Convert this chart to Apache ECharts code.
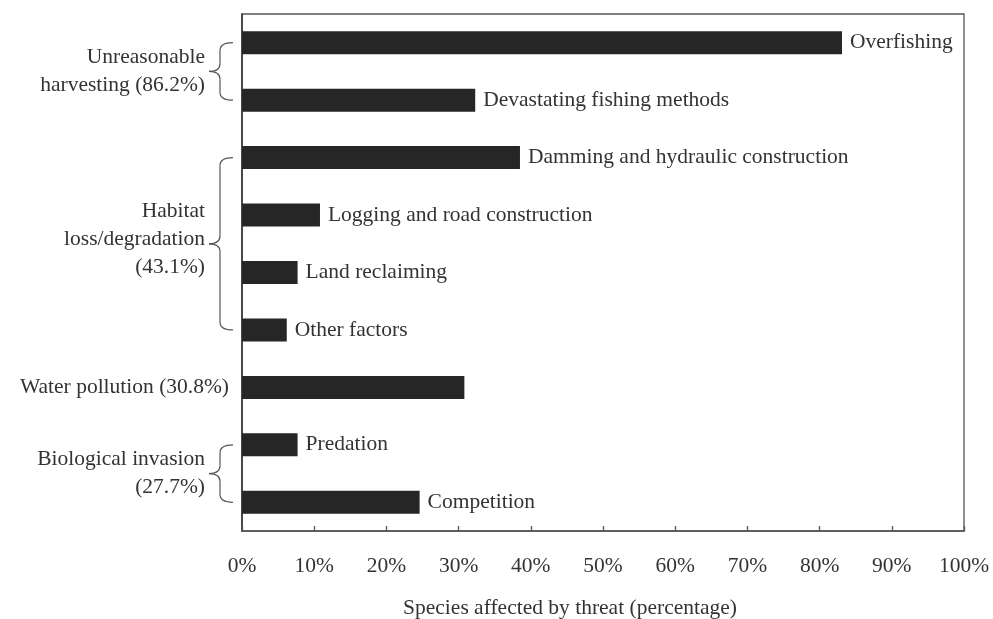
<!DOCTYPE html>
<html>
<head>
<meta charset="utf-8">
<script src="https://cdn.jsdelivr.net/npm/echarts@6/dist/echarts.min.js"></script>
<style>html,body{margin:0;padding:0;background:#fff;}#c{width:993px;height:619px;}</style>
</head>
<body>
<div id="c"></div>
<script>
var categories = ['Overfishing', 'Devastating fishing methods', 'Damming and hydraulic construction',
  'Logging and road construction', 'Land reclaiming', 'Other factors', 'Water pollution',
  'Predation', 'Competition'];
var barLabels = ['Overfishing', 'Devastating fishing methods', 'Damming and hydraulic construction',
  'Logging and road construction', 'Land reclaiming', 'Other factors', '',
  'Predation', 'Competition'];
var values = [83.1, 32.3, 38.5, 10.8, 7.7, 6.2, 30.8, 7.7, 24.6];
var xTicks = [0, 10, 20, 30, 40, 50, 60, 70, 80, 90, 100];
var groupLabels = [['Unreasonable', 'harvesting (86.2%)'], ['Habitat', 'loss/degradation', '(43.1%)'],
  ['Water pollution (30.8%)'], ['Biological invasion', '(27.7%)']];
var groupStart = [0, 2, 6, 7];
var groupEnd = [1, 5, 6, 8];

var FONT = '"Liberation Serif", "Times New Roman", serif';
var FS = 21.5;
var TXT = '#333333';
var chart = echarts.init(document.getElementById('c'));
chart.setOption({
  animation: false,
  grid: { left: 242, right: 29, top: 14, bottom: 88, show: true, borderColor: '#555', borderWidth: 1.3,
    containLabel: false, outerBoundsMode: 'none' },
  xAxis: {
    type: 'value', min: 0, max: 100, interval: 10,
    name: 'Species affected by threat (percentage)', nameLocation: 'middle', nameGap: 66,
    nameTextStyle: { fontFamily: FONT, fontSize: FS, color: TXT, padding: [0, 66, 0, 0] },
    axisLine: { show: true, lineStyle: { color: '#555', width: 1.5 } },
    axisTick: { show: true, inside: true, length: 5, lineStyle: { color: '#555', width: 1.3 } },
    axisLabel: { margin: 24, fontFamily: FONT, fontSize: FS, color: TXT, formatter: function (v) { return v + '%'; },
      customValues: xTicks },
    splitLine: { show: false }
  },
  yAxis: {
    type: 'category', inverse: true, data: categories,
    axisLine: { show: true, lineStyle: { color: '#333', width: 1.5 } },
    axisTick: { show: false }, axisLabel: { show: false }, splitLine: { show: false }
  },
  series: [{
    type: 'bar', data: values, barWidth: '40%',
    itemStyle: { color: '#262626' },
    label: { show: true, position: 'right', distance: 8, fontFamily: FONT, fontSize: FS, color: TXT,
      formatter: function (p) { return barLabels[p.dataIndex]; } }
  }]
});

var graphics = [];
var spineX = 220, tipX = 233, r = 8;
var bstyle = { fill: null, stroke: '#555', lineWidth: 1.2 };
function curve(x1, y1, cx, cy, x2, y2) {
  graphics.push({ type: 'bezierCurve', shape: { x1: x1, y1: y1, cpx1: cx, cpy1: cy, x2: x2, y2: y2 }, style: bstyle });
}
function seg(x1, y1, x2, y2) {
  graphics.push({ type: 'line', shape: { x1: x1, y1: y1, x2: x2, y2: y2 }, style: bstyle });
}
for (var g = 0; g < groupLabels.length; g++) {
  var y0 = chart.convertToPixel({ yAxisIndex: 0 }, groupStart[g]);
  var y1 = chart.convertToPixel({ yAxisIndex: 0 }, groupEnd[g]);
  var mid = (y0 + y1) / 2;
  var textX;
  if (groupStart[g] !== groupEnd[g]) {
    var px = spineX - 11;
    curve(tipX, y0, spineX, y0, spineX, y0 + r);
    seg(spineX, y0 + r, spineX, mid - r);
    curve(spineX, mid - r, spineX, mid, px, mid);
    curve(px, mid, spineX, mid, spineX, mid + r);
    seg(spineX, mid + r, spineX, y1 - r);
    curve(spineX, y1 - r, spineX, y1, tipX, y1);
    textX = px - 4;
  } else {
    textX = 229;
  }
  graphics.push({
    type: 'text', x: textX, y: mid - (groupLabels[g].length > 2 ? 4 : 0),
    style: { text: groupLabels[g].join('\n'), fontFamily: FONT, fontSize: FS, fill: TXT,
      align: 'right', verticalAlign: 'middle', lineHeight: 28 }
  });
}
chart.setOption({ graphic: graphics });
</script>
</body>
</html>
